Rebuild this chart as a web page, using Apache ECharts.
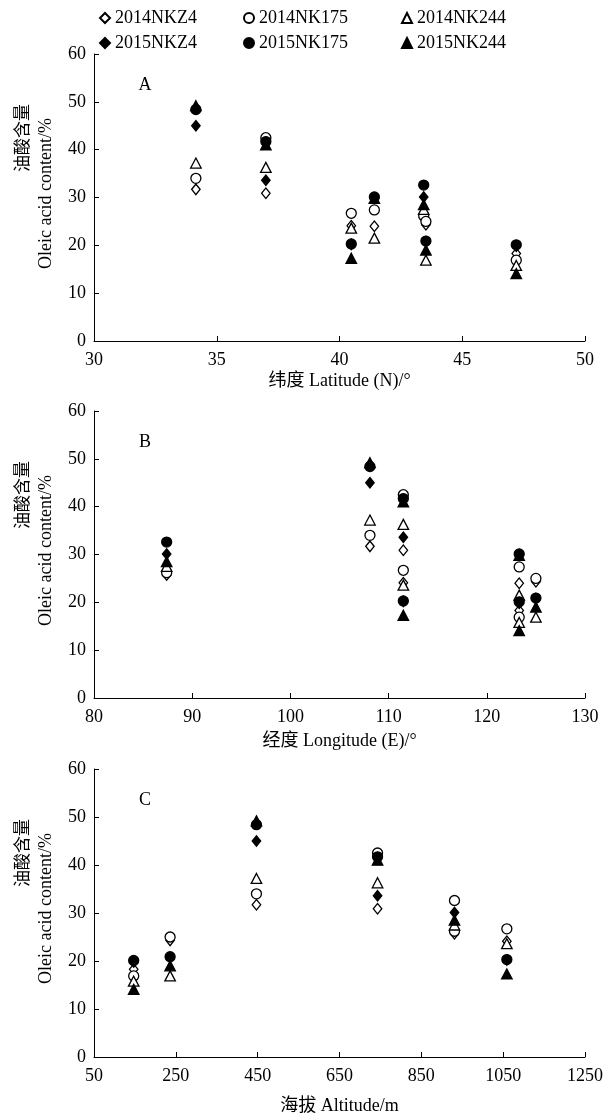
<!DOCTYPE html>
<html><head><meta charset="utf-8">
<script src="https://cdn.jsdelivr.net/npm/echarts@6/dist/echarts.min.js"></script>
<style>html,body{margin:0;padding:0;background:#fff}#c{width:610px;height:1119px}</style>
</head><body><div id="c"></div>
<script>
// ---------- data ----------
const seriesNames = ['2014NKZ4','2014NK175','2014NK244','2015NKZ4','2015NK175','2015NK244'];
// seven sampling sites
const latitude  = [34.15, 37.0, 40.48, 41.42, 43.43, 43.52, 47.2];
const longitude = [108.1, 111.5, 111.5, 123.3, 87.4, 125.0, 123.3];
const altitude  = [447, 743, 1059, null, 931, 236, 147];
const v2014NKZ4  = [31.7, 30.9, 24.1, 24.0, 25.7, 24.3, 18.3];
const v2014NK175 = [34.0, 42.5, 26.7, 27.4, 26.2, 25.0, 16.9];
const v2014NK244 = [37.2, 36.3, 23.6, 21.5, 27.5, 16.9, 15.8];
const v2015NKZ4  = [45.0, 33.6, 20.2, 30.0, 30.1, 20.8, 19.8];
const v2015NK175 = [48.4, 41.7, 20.3, 30.1, 32.6, 20.9, 20.1];
const v2015NK244 = [49.2, 41.0, 17.3, 29.8, 28.5, 19.0, 14.1];
// tick labels
const yTicks   = [0, 10, 20, 30, 40, 50, 60];
const latTicks = [30, 35, 40, 45, 50];
const lonTicks = [80, 90, 100, 110, 120, 130];
const altTicks = [50, 250, 450, 650, 850, 1050, 1250];
// in panel C the 2015NK175 marker of site 5 is printed hollow
const altHollowPoint = {series: '2015NK175', site: 4};

const values = [v2014NKZ4, v2014NK175, v2014NK244, v2015NKZ4, v2015NK175, v2015NK244];
const panels = [
  {letter:'A', xs: latitude, ticks: latTicks, offset: 0, name:'纬度 Latitude (N)/°', top:54, h:287, gap:31},
  {letter:'B', xs: longitude, ticks: lonTicks, offset: 0, name:'经度 Longitude (E)/°', top:411, h:287, gap:34},
  {letter:'C', xs: altitude, ticks: altTicks, offset: altTicks[0], name:'海拔 Altitude/m', top:769, h:288, gap:40}
];

// ---------- styling ----------
const FONT = '"Liberation Serif","Times New Roman","Noto Sans CJK SC",serif';
const symbolOf = n => n.endsWith('NKZ4') ? 'diamond' : (n.endsWith('NK175') ? 'circle' : 'triangle');
const sizeOf = s => s === 'diamond' ? [8.5, 10.5] : (s === 'circle' ? 10 : [10.5, 10]);
const hollow = n => n.startsWith('2014');
const styleOf = open => ({color: open ? '#fff' : '#000', borderColor:'#000', borderWidth: 1.3, opacity: 1});

const grids = [], xAxes = [], yAxes = [], series = [], graphics = [];
panels.forEach((p, i) => {
  grids.push({left:94, right:25, top:p.top, height:p.h});
  const t = p.ticks;
  xAxes.push({
    type:'value', gridIndex:i,
    min: t[0] - p.offset, max: t[t.length-1] - p.offset, interval: t[1]-t[0],
    name: p.name, nameLocation:'middle', nameGap: p.gap,
    nameTextStyle:{fontFamily:FONT, fontSize:18, color:'#000'},
    axisLine:{show:true, onZero:false, lineStyle:{color:'#000', width:1}},
    axisTick:{show:true, inside:true, length:5, lineStyle:{color:'#000', width:1}},
    axisLabel:{color:'#000', fontFamily:FONT, fontSize:18, margin:10,
               formatter: v => String(v + p.offset)},
    splitLine:{show:false}
  });
  yAxes.push({
    type:'value', gridIndex:i,
    min: yTicks[0], max: yTicks[yTicks.length-1], interval: yTicks[1]-yTicks[0],
    axisLine:{show:true, onZero:false, lineStyle:{color:'#000', width:1}},
    axisTick:{show:true, inside:true, length:5, lineStyle:{color:'#000', width:1}},
    axisLabel:{color:'#000', fontFamily:FONT, fontSize:18, margin:8},
    splitLine:{show:false}
  });
  seriesNames.forEach((n, k) => {
    const sym = symbolOf(n);
    const data = [];
    p.xs.forEach((x, s) => {
      if (x == null || values[k][s] == null) return;
      const item = {value:[x - p.offset, values[k][s]]};
      if (p.letter === 'C' && altHollowPoint.series === n && altHollowPoint.site === s) {
        item.itemStyle = styleOf(true);
      }
      data.push(item);
    });
    series.push({
      type:'scatter', name:n, xAxisIndex:i, yAxisIndex:i,
      symbol: sym, symbolSize: sizeOf(sym),
      itemStyle: styleOf(hollow(n)),
      emphasis:{disabled:true}, silent:true, animation:false,
      data
    });
  });
  // panel letter
  graphics.push({type:'text', x:145, y:p.top + 31,
    style:{text:p.letter, font:'18px ' + FONT, fill:'#000', align:'center', verticalAlign:'middle'}});
  // y axis titles (two lines, rotated)
  graphics.push({type:'text', x:22, y:p.top + 50, rotation:Math.PI/2,
    style:{text:'油酸含量', font:'17px "Noto Sans CJK SC",sans-serif', fill:'#000', align:'right', verticalAlign:'middle'}});
  graphics.push({type:'text', x:46, y:p.top + 64, rotation:Math.PI/2,
    style:{text:'Oleic acid content/%', font:'18px ' + FONT, fill:'#000', align:'right', verticalAlign:'middle'}});
});

const legendBase = {
  orient:'vertical', top:9, padding:0, itemWidth:10, itemHeight:10, itemGap:7,
  selectedMode:false,
  textStyle:{fontFamily:FONT, fontSize:18, color:'#000', lineHeight:18}
};
const legends = [
  Object.assign({}, legendBase, {left:99, data:['2014NKZ4','2015NKZ4']}),
  Object.assign({}, legendBase, {left:243, data:['2014NK175','2015NK175']}),
  Object.assign({}, legendBase, {left:401, data:['2014NK244','2015NK244']})
];

const chart = echarts.init(document.getElementById('c'), null, {renderer:'canvas'});
chart.setOption({
  animation:false, backgroundColor:'#fff',
  legend: legends, grid: grids, xAxis: xAxes, yAxis: yAxes, series, graphic: graphics
});
</script></body></html>
